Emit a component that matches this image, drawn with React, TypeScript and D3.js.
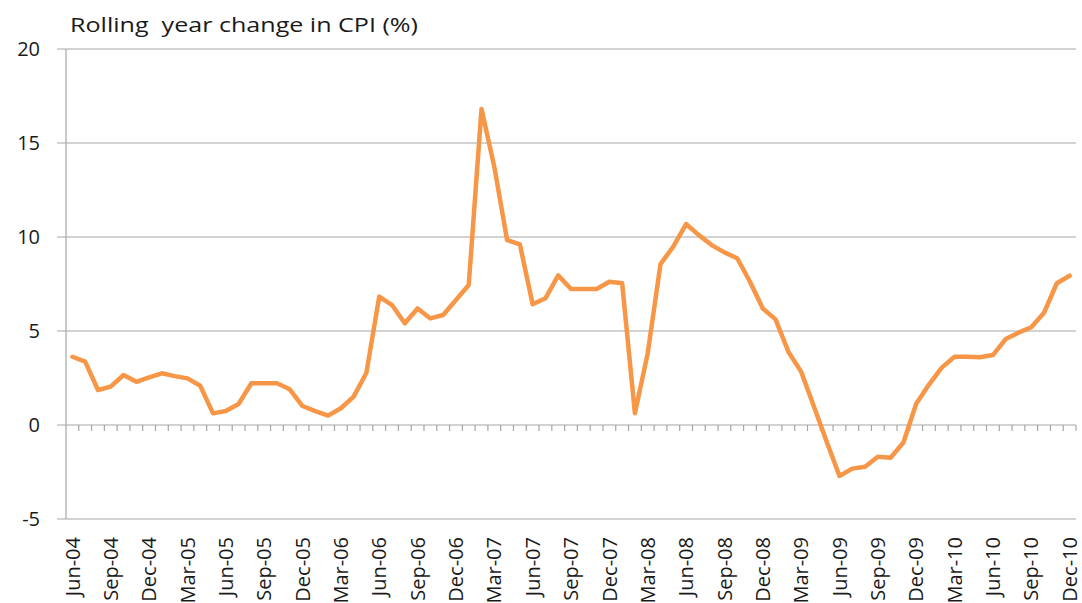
import { useEffect, useRef } from "react";
import * as d3 from "d3";

// monthly categories Jun-04 .. Dec-10
const months = d3
  .timeMonths(new Date(2004, 5, 1), new Date(2011, 0, 1))
  .map((d) => d3.timeFormat("%b-%y")(d));

// rolling year change in CPI (%)
const cpi = [
  3.63, 3.37, 1.86, 2.04, 2.66, 2.3, 2.53, 2.75, 2.6, 2.48, 2.09, 0.62,
  0.74, 1.12, 2.22, 2.22, 2.22, 1.9, 1.01, 0.74, 0.5, 0.89, 1.51, 2.78,
  6.83, 6.38, 5.41, 6.2, 5.67, 5.85, 6.65, 7.45, 16.81, 13.74, 9.84, 9.61,
  6.42, 6.74, 7.96, 7.23, 7.23, 7.23, 7.62, 7.54, 0.62, 3.81, 8.56, 9.49,
  10.69, 10.1, 9.57, 9.18, 8.87, 7.62, 6.2, 5.62, 3.9, 2.84, 0.98, -0.89,
  -2.71, -2.32, -2.22, -1.69, -1.74, -0.93, 1.13, 2.15, 3.05, 3.63, 3.63,
  3.6, 3.72, 4.57, 4.91, 5.2, 5.97, 7.54, 7.94,
];

const yTicks = [20, 15, 10, 5, 0, -5];
const gridValues = [20, 15, 10, 5, -5];
const title = "Rolling  year change in CPI (%)";

const W = 1082;
const H = 603;
const font = "'Open Sans', sans-serif";

function CpiChart() {
  const svgRef = useRef(null);

  useEffect(() => {
    const svg = d3.select(svgRef.current);
    svg.selectAll("*").remove();

    const left = 66;
    const right = 1076;
    const x = d3.scaleBand().domain(months).range([left, right]).padding(0);
    const y = d3.scaleLinear().domain([-5, 20]).range([519, 49]);
    const cx = (m) => x(m) + x.bandwidth() / 2;

    svg.append("rect").attr("width", W).attr("height", H).attr("fill", "#fff");

    // gridlines
    svg
      .append("g")
      .selectAll("line")
      .data(gridValues)
      .join("line")
      .attr("x1", 57)
      .attr("x2", right)
      .attr("y1", (d) => y(d))
      .attr("y2", (d) => y(d))
      .attr("stroke", "#a6a6a6")
      .attr("stroke-width", 1.2);

    // y axis
    svg
      .append("line")
      .attr("x1", left)
      .attr("x2", left)
      .attr("y1", y(20))
      .attr("y2", y(-5))
      .attr("stroke", "#a6a6a6")
      .attr("stroke-width", 1.2);

    // category axis at zero
    svg
      .append("line")
      .attr("x1", 57)
      .attr("x2", right)
      .attr("y1", y(0))
      .attr("y2", y(0))
      .attr("stroke", "#a6a6a6")
      .attr("stroke-width", 1.2);

    svg
      .append("g")
      .selectAll("line")
      .data(months)
      .join("line")
      .attr("x1", (d) => x(d) + x.bandwidth())
      .attr("x2", (d) => x(d) + x.bandwidth())
      .attr("y1", y(0))
      .attr("y2", y(0) + 6)
      .attr("stroke", "#a6a6a6")
      .attr("stroke-width", 1.2);

    // y labels
    svg
      .append("g")
      .selectAll("text")
      .data(yTicks)
      .join("text")
      .attr("x", 40)
      .attr("y", (d) => y(d))
      .attr("dy", "0.36em")
      .attr("text-anchor", "end")
      .attr("font-family", font)
      .attr("font-size", 20)
      .attr("fill", "#1a1a1a")
      .text((d) => d);

    // x labels every quarter
    svg
      .append("g")
      .selectAll("text")
      .data(months.filter((d, i) => i % 3 === 0))
      .join("text")
      .attr("transform", (d) => `translate(${cx(d)},537) rotate(-90)`)
      .attr("dy", "0.36em")
      .attr("text-anchor", "end")
      .attr("font-family", font)
      .attr("font-size", 20)
      .attr("fill", "#1a1a1a")
      .text((d) => d);

    // the line
    const line = d3
      .line()
      .x((d, i) => cx(months[i]))
      .y((d) => y(d));

    svg
      .append("path")
      .datum(cpi)
      .attr("d", line)
      .attr("fill", "none")
      .attr("stroke", "#F79646")
      .attr("stroke-width", 4.5)
      .attr("stroke-linejoin", "round")
      .attr("stroke-linecap", "round");

    svg
      .append("text")
      .attr("x", 70)
      .attr("y", 32)
      .attr("font-family", font)
      .attr("font-size", 20)
      .attr("fill", "#1a1a1a")
      .attr("textLength", 348)
      .attr("lengthAdjust", "spacingAndGlyphs")
      .style("white-space", "pre")
      .text(title);
  }, []);

  return (
    <svg
      ref={svgRef}
      width={W}
      height={H}
      style={{ position: "absolute", left: 0, top: 0, display: "block" }}
    ></svg>
  );
}

export default function App() {
  return <CpiChart />;
}
